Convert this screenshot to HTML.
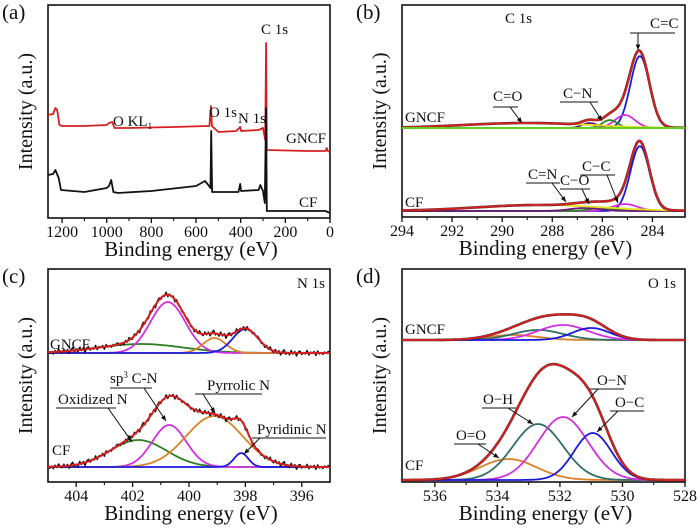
<!DOCTYPE html>
<html><head><meta charset="utf-8"><style>
html,body{margin:0;padding:0;background:#fff;}
svg{display:block;}
svg text{font-family:"Liberation Serif","Times New Roman",serif;}
</style></head><body>
<svg id="fig" width="700" height="528" viewBox="0 0 700 528" xmlns="http://www.w3.org/2000/svg" font-family="Liberation Serif, serif"></svg>
<script>
// ---- Panel (a) survey data: [binding energy, intensity]
const surveyGNCF = [[1263,103],[1240,104],[1230,110],[1222,108],[1212,93],[1200,92],[1100,92],[1000,93],[990,95],[975,96],[965,90],[900,90],[700,91],[550,92],[540,92],[533,112],[529,92],[500,86],[420,87],[402,91],[398,87],[320,88],[300,90],[290,78],[286,175],[283,68],[100,67],[20,67],[15,70],[10,67],[0,66]];
const surveyCF = [[1263,43],[1240,44],[1230,48],[1215,40],[1205,28],[1100,26],[1000,30],[990,32],[980,38],[970,26],[950,25],[800,27],[600,32],[560,37],[545,33],[535,30],[532,87],[528,26],[500,26],[410,26],[402,34],[398,27],[320,28],[312,33],[300,27],[292,15],[286,110],[283,7],[100,7],[20,7],[0,5]];
const surveyTicks = [1200,1000,800,600,400,200,0];

// ---- Peak fit components: centers, heights, widths (sigma)
const c1sNames = ["C=C","C-C","C-N","C=O/C-O","tail"];
const c1sCenters = [284.5,285.1,285.7,286.5,289.0];
const c1sGNCFHeights = [72,13,8,5,5];
const c1sGNCFWidths = [0.38,0.4,0.3,0.3,2.5];
const c1sCFCenters = [284.5,285.1,286.0,286.7,288.5];
const c1sCFHeights = [65,7,3,3,6];
const c1sCFWidths = [0.38,0.5,0.5,0.6,2.5];
const c1sColors = ["#1a1ae0","#d030e0","#2e8a1e","#6a1a7a","#e8e020"];
const c1sTicks = [294,292,290,288,286,284];

const n1sCenters = [401.7,400.75,399.1,398.0];
const n1sGNCFHeights = [9,51,15,24];
const n1sGNCFWidths = [1.5,0.62,0.4,0.45];
const n1sCFCenters = [401.8,400.7,399.1,398.15];
const n1sCFHeights = [27,42,51,14];
const n1sCFWidths = [1.0,0.6,1.0,0.25];
const n1sColors = ["#2e7d1e","#d030e0","#d9822b","#1a1ae0"];
const n1sTicks = [404,402,400,398,396];
const n1sResidual = [2,-3,1,-4,3,-2,5,-1,-3,4,-2,3,-5,2,6,-3,1,-4,5,-2,3,-6,2,4,-3,1,-2,5,-4,2,-1,3,-5,4,-2,1,-3,2,-1,3];

const o1sCenters = [533.5,532.7,531.9,531.0];
const o1sGNCFHeights = [5,10,15,12];
const o1sGNCFWidths = [0.8,0.8,0.8,0.6];
const o1sCFCenters = [533.65,532.7,531.9,530.95];
const o1sCFHeights = [21,56,63,47];
const o1sCFWidths = [0.9,0.8,0.8,0.6];
const o1sColors = ["#d9822b","#2f6f64","#d030e0","#1a1ae0"];
const o1sTicks = [536,534,532,530,528];

const NS="http://www.w3.org/2000/svg";
const svg=document.getElementById('fig');
function mk(tag,attrs,parent){const e=document.createElementNS(NS,tag);for(const k in attrs)e.setAttribute(k,attrs[k]);(parent||svg).appendChild(e);return e;}
function txt(x,y,s,size,anchor,parent,name){const t=mk('text',{x:x,y:y,'font-size':size,'text-anchor':anchor||'start',fill:'#111','font-family':'Liberation Serif, serif'},parent);


t.textContent=s;return t;}
function lin(d0,d1,r0,r1){return v=>r0+(v-d0)/(d1-d0)*(r1-r0);}
function gauss(x,c,h,s){return h*Math.exp(-0.5*((x-c)/s)**2);}

function frame(p){
  const g=mk('g',{});
  
  
  const r=mk('rect',{x:p.L,y:p.T,width:p.R-p.L,height:p.B-p.T,fill:'none',stroke:'#111','stroke-width':1.6},g);
  
  
  const xs=lin(p.d0,p.d1,p.L,p.R);
  const ax=mk('g',{},g);
  
  
  p.ticks.forEach(t=>{
    const X=xs(t);
    mk('line',{x1:X,x2:X,y1:p.B,y2:p.B+5,stroke:'#111','stroke-width':1.3},ax);
    txt(X,p.B+19,String(t),16,'middle',ax,'x-tick-label');
  });
  for(let i=0;i<p.ticks.length-1;i++){const m=(p.ticks[i]+p.ticks[i+1])/2;const X=xs(m);
    if(X>p.L&&X<p.R)mk('line',{x1:X,x2:X,y1:p.B,y2:p.B+3,stroke:'#111','stroke-width':1.1},ax);}
  txt((p.L+p.R)/2+2,p.B+38,'Binding energy (eV)',21,'middle',g,'x-axis-title');
  const yt=txt(0,0,'Intensity (a.u.)',20,'middle',g,'y-axis-title');
  yt.setAttribute('transform','translate('+(p.L-16)+','+((p.T+p.B)/2)+') rotate(-90)');
  txt(p.L-46,p.T+14,p.label,21,'start',g,'panel-label');
  return {g,xs};
}
function poly(pts,color,w,parent,name){const pl=mk('polyline',{points:pts.map(p=>p[0].toFixed(1)+','+p[1].toFixed(1)).join(' '),fill:'none',stroke:color,'stroke-width':w,'stroke-linejoin':'round'},parent);


return pl;}
function annot(g,tx,ty,s,lx1,lx2,ly,ax,ay,name){
  if(s)txt(tx,ty,s,15,'start',g,name);
  mk('line',{x1:lx1,x2:lx2,y1:ly,y2:ly,stroke:'#111','stroke-width':1},g);
  const sx=lx1+(lx2-lx1)*0.5;const a=mk('line',{x1:ax<sx?lx1+8:lx2-8,y1:ly,x2:ax,y2:ay,stroke:'#111','stroke-width':1},g);
  const ang=Math.atan2(ay-ly,ax-(ax<sx?lx1+8:lx2-8));
  const h=[[ax,ay],[ax-6*Math.cos(ang-0.4),ay-6*Math.sin(ang-0.4)],[ax-6*Math.cos(ang+0.4),ay-6*Math.sin(ang+0.4)]];
  mk('polygon',{points:h.map(p=>p.join(',')).join(' '),fill:'#111'},g);
}
function fitPanel(p,sets){
  const {g,xs}=frame(p);
  const cid='clip'+p.label.replace(/\W/g,'');
  const clip=mk('clipPath',{id:cid},g);
  mk('rect',{x:p.L,y:p.T,width:p.R-p.L,height:p.B-p.T},clip);
  const pg=mk('g',{'clip-path':'url(#'+cid+')'},g);
  sets.forEach(s=>{
    const N=160;const env=[],raw=[];
    s.centers.forEach((c,i)=>{
      const pts=[];for(let k=0;k<=N;k++){const x=p.d0+(p.d1-p.d0)*k/N;pts.push([xs(x),s.base-gauss(x,c,s.heights[i],s.widths[i])*p.ys]);}
      poly(pts,s.colors[i],1.8,pg,s.name+'-component-'+i);
    });
    for(let k=0;k<=N;k++){const x=p.d0+(p.d1-p.d0)*k/N;let v=0;s.centers.forEach((c,i)=>v+=gauss(x,c,s.heights[i],s.widths[i]));env.push([xs(x),s.base-v*p.ys]);
      if(s.resid){raw.push([xs(x),s.base-(v+s.resid[k%s.resid.length]*0.5)*p.ys]);}}
    if(s.resid)poly(raw,'#111',1.4,pg,s.name+'-raw-data');
    else poly(env,'#222',2.6,pg,s.name+'-raw-data');
    poly(env,'#d42020',2,pg,s.name+'-envelope');
    if(s.baseColor)mk('line',{x1:p.L,x2:p.R,y1:s.base,y2:s.base,stroke:s.baseColor,'stroke-width':2},pg);
    txt(s.lx,s.ly,s.label,15,'start',g,s.name+'-label');
  });
  return g;
}

// ---- Panel (a)
(function(){
  const p={name:'panel-a-survey',label:'(a)',L:48,R:330,T:5,B:218,d0:1263,d1:0,ticks:surveyTicks};
  const {g,xs}=frame(p);
  const ys=v=>218-v;
  poly(surveyGNCF.map(d=>[xs(d[0]),ys(d[1])]),'#d42020',1.8,g,'gncf-survey-line');
  poly(surveyCF.map(d=>[xs(d[0]),ys(d[1])]),'#111',1.8,g,'cf-survey-line');
  txt(261,34,'C 1s',15,'start',g,'c1s-label');
  txt(209,117,'O 1s',15,'start',g,'o1s-label');
  txt(238,123,'N 1s',15,'start',g,'n1s-label');
  const ok=txt(113,126,'O KL',15,'start',g,'okl-label');
  const sub=mk('tspan',{'font-size':9,dy:3},ok);sub.textContent='1';
  txt(286,143,'GNCF',15,'start',g,'gncf-label');
  txt(299,207,'CF',15,'start',g,'cf-label');
})();

// ---- Panel (b)
(function(){
  const p={name:'panel-b-c1s',label:'(b)',L:402,R:685,T:5,B:217,d0:294,d1:282.7,ticks:c1sTicks,ys:1};
  const g=fitPanel(p,[
    {name:'gncf-c1s',centers:c1sCenters,heights:c1sGNCFHeights,widths:c1sGNCFWidths,colors:c1sColors,base:128,baseColor:'#60d020',label:'GNCF',lx:405,ly:122},
    {name:'cf-c1s',centers:c1sCFCenters,heights:c1sCFHeights,widths:c1sCFWidths,colors:c1sColors,base:211,label:'CF',lx:405,ly:207}]);
  txt(505,23,'C 1s',15,'start',g,'c1s-title');
  annot(g,650,28,'C=C',630,675,33,638,50,'c-c-double-label');
  annot(g,563,98,'C−N',560,598,102,602,121,'c-n-label');
  annot(g,493,101,'C=O',493,518,107,522,123,'c-o-double-label');
  annot(g,528,179,'C=N',526,560,183,566,202,'c-n-double-label');
  annot(g,560,185,'C−O',560,590,189,589,204,'c-o-label');
  annot(g,582,171,'C−C',580,615,175,618,203,'c-c-single-label');
})();

// ---- Panel (c)
(function(){
  const p={name:'panel-c-n1s',label:'(c)',L:48,R:330,T:269,B:482,d0:405,d1:395,ticks:n1sTicks,ys:1};
  const g=fitPanel(p,[
    {name:'gncf-n1s',centers:n1sCenters,heights:n1sGNCFHeights,widths:n1sGNCFWidths,colors:n1sColors,base:353,resid:n1sResidual,label:'GNCF',lx:50,ly:349},
    {name:'cf-n1s',centers:n1sCFCenters,heights:n1sCFHeights,widths:n1sCFWidths,colors:n1sColors,base:467,resid:n1sResidual,label:'CF',lx:52,ly:455}]);
  txt(297,288,'N 1s',15,'start',g,'n1s-title');
  const sp=txt(110,383,'sp',15,'start',g,'sp3-cn-label');
  const s3=mk('tspan',{'font-size':9,dy:-5},sp);s3.textContent='3';
  const s4=mk('tspan',{dy:5},sp);s4.textContent=' C-N';
  annot(g,0,0,'',110,152,388,166,421,'sp3-arrow');
  annot(g,58,404,'Oxidized N',56,116,408,132,442,'oxidized-n-label');
  annot(g,207,390,'Pyrrolic N',195,262,394,215,413,'pyrrolic-n-label');
  annot(g,257,434,'Pyridinic N',252,326,438,244,454,'pyridinic-n-label');
})();

// ---- Panel (d)
(function(){
  const p={name:'panel-d-o1s',label:'(d)',L:402,R:685,T:269,B:482,d0:537.05,d1:528,ticks:o1sTicks,ys:1};
  const g=fitPanel(p,[
    {name:'gncf-o1s',centers:o1sCenters,heights:o1sGNCFHeights,widths:o1sGNCFWidths,colors:o1sColors,base:340,label:'GNCF',lx:405,ly:334},
    {name:'cf-o1s',centers:o1sCFCenters,heights:o1sCFHeights,widths:o1sCFWidths,colors:o1sColors,base:480,label:'CF',lx:405,ly:470}]);
  txt(648,288,'O 1s',15,'start',g,'o1s-title');
  annot(g,456,440,'O=O',454,486,444,499,458,'o-o-label');
  annot(g,483,404,'O−H',482,516,408,533,424,'o-h-label');
  annot(g,597,385,'O−N',590,624,389,572,417,'o-n-label');
  annot(g,615,407,'O−C',610,644,411,597,432,'o-c-label');
})();
</script>
</body></html>
